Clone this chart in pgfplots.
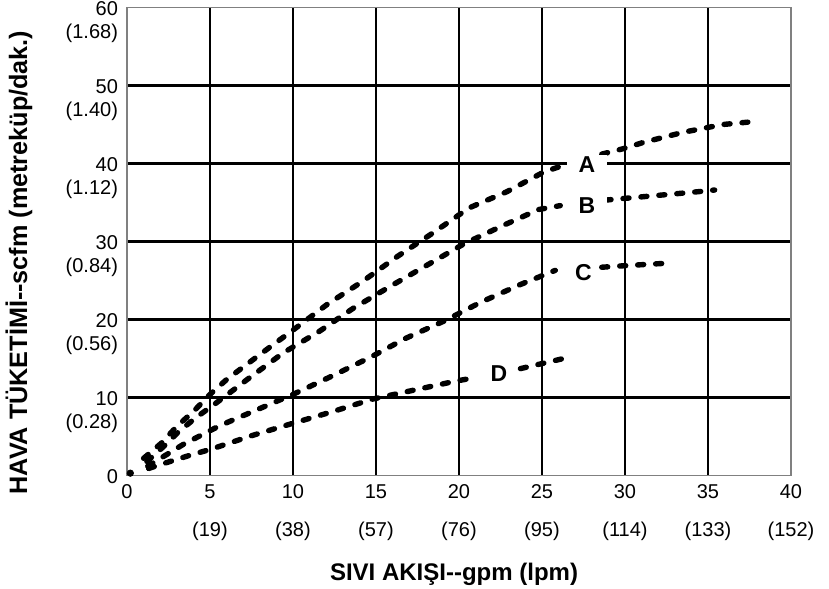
\documentclass[border=0pt]{standalone}
\usepackage{pgfplots}
\pgfplotsset{compat=1.18}
\usepackage{fontspec}
\setmainfont{Liberation Sans}
\tikzset{lab/.style={fill=white, inner xsep=6pt, inner ysep=1pt, font=\bfseries\fontsize{11.5}{12}\selectfont}}
\begin{document}
\begin{tikzpicture}
\begin{axis}[
  name=ax,
  width=332pt, height=234pt, scale only axis,
  xmin=0, xmax=40, ymin=0, ymax=60,
  xtick={5,10,...,35}, ytick={10,20,...,50},
  xticklabels={{5\\[7pt](19)},{10\\[7pt](38)},{15\\[7pt](57)},{20\\[7pt](76)},{25\\[7pt](95)},{30\\[7pt](114)},{35\\[7pt](133)}},
  yticklabels={{10\\(0.28)},{20\\(0.56)},{30\\(0.84)},{40\\(1.12)},{50\\(1.40)}},
  extra x ticks={0,40}, extra x tick labels={{0},{40\\[7pt](152)}},
  extra y ticks={0,60}, extra y tick labels={{0},{60\\(1.68)}},
  extra tick style={grid=none},
  grid=major, major grid style={black, line width=1.4pt},
  axis line style={draw=black!50, line width=0.9pt},
  major tick length=0pt, tick style={draw=none},
  xticklabel style={align=center, anchor=north, yshift=-1pt, font=\fontsize{10}{12}\selectfont},
  yticklabel style={align=right, anchor=north east, yshift=6.5pt, xshift=-1pt, font=\fontsize{10}{11.5}\selectfont},
  every axis x label/.style={at={(axis description cs:0.4925,0)}, anchor=center, yshift=-49.5pt, font=\bfseries\fontsize{12}{14}\selectfont},
  every axis y label/.style={at={(axis description cs:0,0.455)}, xshift=-54pt, rotate=90, anchor=center, font=\bfseries\fontsize{12.6}{14}\selectfont},
  xlabel={SIVI AKIŞI-{}-gpm (lpm)},
  ylabel={HAVA TÜKETİMİ-{}-scfm (metreküp/dak.)},
  curve/.style={black, line width=2.7pt, line cap=round, dash pattern=on 3pt off 6pt, no markers},
]
% A
\addplot[curve] coordinates {(1.0,2.2) (2.1,4.2) (3.0,6.3) (4.0,8.2) (5.0,10.4) (6.0,12.3) (8.0,15.5) (10.1,18.8) (12.1,22.0) (14.2,24.9) (16.3,28.1) (18.5,31.2) (20.6,34.3) (22.9,36.4) (25.1,38.9) (26.2,39.7)};
\addplot[curve] coordinates {(28.6,41.2) (29.9,41.9) (31.1,42.7) (33.5,44.0) (35.9,45.0) (37.4,45.3)};
% B
\addplot[curve] coordinates {(1.2,1.8) (2.2,3.7) (3.1,5.6) (4.2,7.5) (5.25,9.1) (7.3,12.4) (9.4,15.7) (11.6,18.5) (13.6,21.4) (15.9,24.3) (18.1,27.0) (20.3,29.7) (22.6,32.0) (24.8,34.1) (26.1,34.6)};
\addplot[curve] coordinates {(28.8,35.3) (31.4,35.8) (34.0,36.3) (35.4,36.6)};
% C
\addplot[curve] coordinates {(1.25,1.2) (3.4,4.0) (5.6,6.4) (7.8,8.4) (10.1,10.5) (12.4,12.8) (14.7,15.2) (16.8,17.6) (19.1,19.8) (21.3,22.2) (23.6,24.4) (25.8,26.3)};
\addplot[curve] coordinates {(28.6,26.7) (30.0,26.9) (32.4,27.2)};
% D
\addplot[curve] coordinates {(1.3,0.9) (2.6,1.8) (3.8,2.6) (5.1,3.4) (7.5,5.1) (10.0,6.7) (12.4,8.2) (14.8,9.8) (17.4,11.0) (19.8,12.1) (21.1,12.6)};
\addplot[curve] coordinates {(23.7,13.7) (24.9,14.3) (26.3,15.0)};
% origin dot
\addplot[only marks, mark=*, mark size=1.6pt, black] coordinates {(0.2,0.3)};
\node[lab] at (axis cs:27.7,39.8) {A};
\node[lab] at (axis cs:27.7,34.6) {B};
\node[lab, fill=none] at (axis cs:27.5,26.0) {C};
\node[lab, fill=none] at (axis cs:22.4,13.1) {D};
\end{axis}
\pgfresetboundingbox
\path[use as bounding box] ([xshift=-63.5pt,yshift=-56.5pt]ax.south west) rectangle ([xshift=19pt,yshift=3.75pt]ax.north east);
\end{tikzpicture}
\end{document}
